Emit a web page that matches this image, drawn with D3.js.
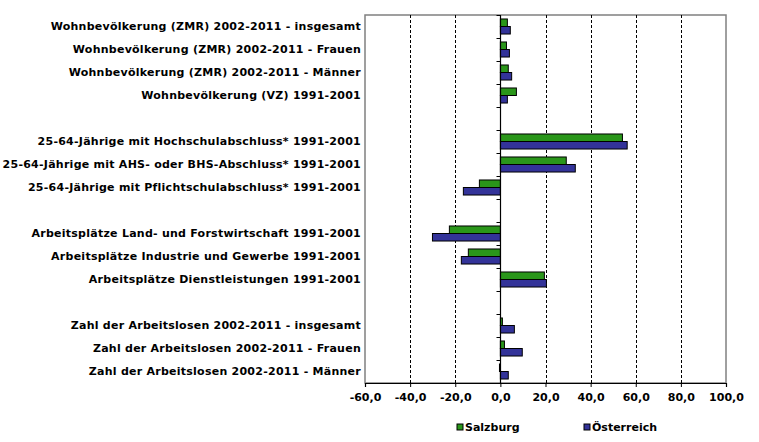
<!DOCTYPE html>
<html><head><meta charset="utf-8">
<script src="https://cdn.jsdelivr.net/npm/d3@7"></script>
<style>body{margin:0;background:#fff}svg{display:block}text{font-family:"DejaVu Sans",Verdana,sans-serif;font-weight:bold}</style>
</head><body>
<svg id="c" width="759" height="442"></svg>
<script>
const categories = [
  "Wohnbevölkerung (ZMR) 2002-2011 - insgesamt",
  "Wohnbevölkerung (ZMR) 2002-2011 - Frauen",
  "Wohnbevölkerung (ZMR) 2002-2011 - Männer",
  "Wohnbevölkerung (VZ) 1991-2001",
  "",
  "25-64-Jährige mit Hochschulabschluss* 1991-2001",
  "25-64-Jährige mit AHS- oder BHS-Abschluss* 1991-2001",
  "25-64-Jährige mit Pflichtschulabschluss* 1991-2001",
  " ",
  "Arbeitsplätze Land- und Forstwirtschaft 1991-2001",
  "Arbeitsplätze Industrie und Gewerbe 1991-2001",
  "Arbeitsplätze Dienstleistungen 1991-2001",
  "  ",
  "Zahl der Arbeitslosen 2002-2011 - insgesamt",
  "Zahl der Arbeitslosen 2002-2011 - Frauen",
  "Zahl der Arbeitslosen 2002-2011 - Männer"
];
const seriesNames = ["Salzburg", "Österreich"];
const salzburg   = [3.1, 2.7, 3.5, 7.1, null, 54.1, 29.2, -9.3, null, -22.6, -14.2, 19.5, null, 0.9, 1.8, -0.4];
const oesterreich = [4.4, 4.0, 5.0, 3.1, null, 56.2, 33.2, -16.4, null, -30.1, -17.3, 20.4, null, 6.2, 9.7, 3.5];
const xTicks = [-60, -40, -20, 0, 20, 40, 60, 80, 100];
const colors = ["#2a961a", "#333399"];

const svg = d3.select("#c");
const L = 365, R = 726, T = 15, B = 383;
const x = d3.scaleLinear().domain([-60, 100]).range([L, R]);
const y = d3.scaleBand().domain(d3.range(categories.length)).range([T, B]).padding(0);
const yi = d3.scaleBand().domain(seriesNames).range([0, y.bandwidth()]).paddingInner(0).paddingOuter(0.53);
const fmt = v => d3.format(".1f")(v).replace(".", ",").replace("−", "-");

// frame
svg.append("rect").attr("x", L).attr("y", T).attr("width", R - L).attr("height", B - T)
  .attr("fill", "none").attr("stroke", "#808080").attr("stroke-width", 1.5);

// grid
svg.append("g").selectAll("line").data(xTicks.filter(v => v !== 0 && v !== -60 && v !== 100)).join("line")
  .attr("x1", d => Math.round(x(d)) + 0.5).attr("x2", d => Math.round(x(d)) + 0.5)
  .attr("y1", T).attr("y2", B).attr("stroke", "#000").attr("stroke-dasharray", "3,2");

// bars
const data = [salzburg, oesterreich];
data.forEach((vals, si) => {
  svg.append("g").selectAll("rect").data(vals.map((v, i) => ({v, i})).filter(d => d.v !== null)).join("rect")
    .attr("x", d => x(Math.min(0, d.v)))
    .attr("y", d => y(d.i) + yi(seriesNames[si]))
    .attr("width", d => Math.abs(x(d.v) - x(0)))
    .attr("height", yi.bandwidth())
    .attr("fill", colors[si]).attr("stroke", "#000").attr("stroke-width", 1);
});

// zero axis with category ticks
const x0 = Math.round(x(0)) + 0.5;
svg.append("line").attr("x1", x0).attr("x2", x0).attr("y1", T).attr("y2", B).attr("stroke", "#000").attr("stroke-width", 1.2);
svg.append("g").selectAll("line").data(d3.range(categories.length + 1)).join("line")
  .attr("x1", x0 - 4).attr("x2", x0)
  .attr("y1", d => Math.round(T + d * y.step()) + 0.5).attr("y2", d => Math.round(T + d * y.step()) + 0.5)
  .attr("stroke", "#000");

// bottom axis
const xa = svg.append("g").attr("transform", `translate(0,${B})`)
  .call(d3.axisBottom(x).tickValues(xTicks).tickFormat(fmt).tickSize(4).tickPadding(6));
xa.select(".domain").attr("stroke", "#000").attr("stroke-width", 1.2);
xa.selectAll("text").attr("font-size", "11px").attr("font-family", "DejaVu Sans, Verdana, sans-serif").attr("font-weight", "bold").attr("fill", "#000");

// category labels
svg.append("g").selectAll("text").data(categories).join("text")
  .attr("x", 361).attr("y", (d, i) => y(i) + y.bandwidth() / 2)
  .attr("dy", "0.35em").attr("text-anchor", "end").attr("font-size", "11px")
  .attr("letter-spacing", "0.25px").attr("fill", "#000")
  .text(d => d.trim());

// legend
const lg = svg.append("g");
const lx = [457, 584];
seriesNames.forEach((n, i) => {
  lg.append("rect").attr("x", lx[i]).attr("y", 424).attr("width", 6).attr("height", 6)
    .attr("fill", colors[i]).attr("stroke", "#000").attr("stroke-width", 1);
  lg.append("text").attr("x", lx[i] + 8).attr("y", 431).attr("font-size", "11px").attr("fill", "#000").text(n);
});
</script>
</body></html>
